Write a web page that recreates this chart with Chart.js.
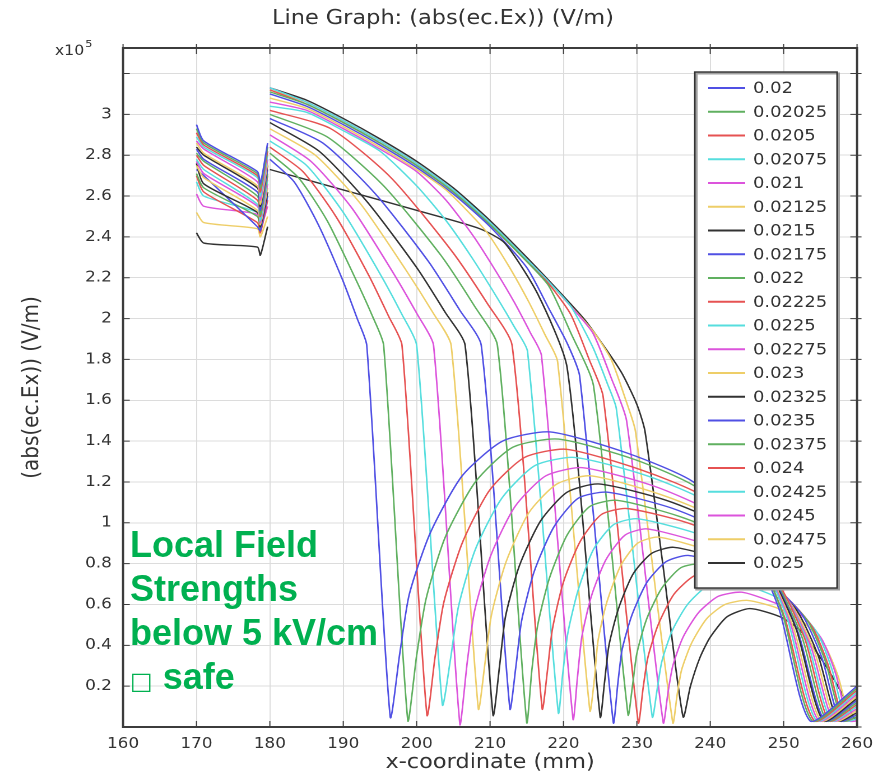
<!DOCTYPE html>
<html lang="en">
<head>
<meta charset="UTF-8">
<title>Line Graph: (abs(ec.Ex)) (V/m)</title>
<script src="https://cdn.jsdelivr.net/npm/chart.js@4.4.1/dist/chart.umd.min.js"></script>
<style>
  html, body { margin: 0; padding: 0; background: #fff; overflow: hidden; }
  /* the source screenshot is stretched sideways, so the whole chart is too */
  #wrap { position: absolute; left: 0; top: 0; width: 788px; height: 775px; transform: scaleX(1.1206); transform-origin: 0 0; }
  #note { position: absolute; left: 130px; top: 523px; font: bold 36px/44px "Liberation Sans", Arial, sans-serif; color: #00b050; white-space: nowrap; }
  #note .box { font: 24px "DejaVu Sans", sans-serif; }
</style>
</head>
<body>
<div id="wrap"><canvas id="chart"></canvas></div>
<div id="note">Local Field<br>Strengths<br>below 5 kV/cm<br><span class="box">□</span> safe</div>

<script>
// parameter values shown in the legend
const seriesNames = ['0.02', '0.02025', '0.0205', '0.02075', '0.021', '0.02125', '0.0215',
  '0.02175', '0.022', '0.02225', '0.0225', '0.02275', '0.023', '0.02325', '0.0235',
  '0.02375', '0.024', '0.02425', '0.0245', '0.02475', '0.025'];

const xTickValues = [160, 170, 180, 190, 200, 210, 220, 230, 240, 250, 260];
const xTickLabels = ['160', '170', '180', '190', '200', '210', '220', '230', '240', '250', '260'];
const yTickValues = [0, 0.2, 0.4, 0.6, 0.8, 1, 1.2, 1.4, 1.6, 1.8, 2, 2.2, 2.4, 2.6, 2.8, 3, 3.2];
const yTickLabels = ['', '0.2', '0.4', '0.6', '0.8', '1', '1.2', '1.4', '1.6', '1.8', '2', '2.2',
  '2.4', '2.6', '2.8', '3', ''];

// [x (mm), |Ex| (x1e5 V/m)]; null = gap between the two domains
const c00 = [[170,2.95],[171,2.87],[178.3,2.72],[178.7,2.66],[179.7,2.86],[179.85,null],
  [180,2.78],[183.3,2.67],[186.6,2.46],[189.9,2.19],[191.9,2.00],[193.2,1.87],[196.4,0.05],
  [197.7,0.36],[199.0,0.65],[201.85,0.95],[206.2,1.23],[211.7,1.40],[218.2,1.445],
  [228.8,1.34],[237.7,1.20],[244.75,0.94],[249.35,0.58],[253.6,0.03],[260,0.20]];
const c01 = [[170,2.93],[171,2.86],[178.3,2.71],[178.7,2.64],[179.7,2.84],[179.85,null],
  [180,2.81],[183.9,2.69],[187.8,2.48],[191.6,2.20],[194.0,2.01],[195.5,1.87],[198.8,0.03],
  [200.0,0.35],[201.3,0.63],[203.9,0.93],[208.0,1.20],[213.1,1.37],[219.3,1.41],
  [229.7,1.31],[238.3,1.17],[245.3,0.92],[249.8,0.56],[253.9,0.03],[260,0.19]];
const c02 = [[170,2.91],[171,2.85],[178.3,2.70],[178.7,2.62],[179.7,2.82],[179.85,null],
  [180,2.84],[184.5,2.72],[189.0,2.50],[193.5,2.21],[196.2,2.01],[198.0,1.87],[201.4,0.06],
  [202.5,0.34],[203.7,0.61],[206.2,0.90],[209.95,1.16],[214.7,1.32],[220.4,1.36],
  [230.5,1.26],[239.0,1.13],[245.75,0.88],[250.1,0.54],[254.2,0.03],[260,0.18]];
const c03 = [[170,2.89],[171,2.84],[178.3,2.69],[178.7,2.60],[179.7,2.80],[179.85,null],
  [180,2.87],[185,2.75],[190,2.52],[195,2.22],[198,2.02],[200,1.87],[203.5,0.11],
  [204.6,0.33],[205.7,0.59],[208.0,0.87],[211.6,1.12],[216.1,1.28],[221.5,1.32],
  [231.4,1.23],[239.65,1.10],[246.25,0.86],[250.5,0.53],[254.5,0.03],[260,0.17]];
const c04 = [[170,2.87],[171,2.83],[178.3,2.67],[178.7,2.58],[179.7,2.78],[179.85,null],
  [180,2.90],[185.6,2.77],[191.2,2.54],[196.7,2.23],[200.1,2.02],[202.3,1.87],[205.9,0.01],
  [206.9,0.32],[207.9,0.57],[210.1,0.84],[213.4,1.08],[217.6,1.23],[222.6,1.27],
  [232.3,1.18],[240.3,1.05],[246.75,0.83],[250.9,0.51],[254.8,0.03],[260,0.16]];
const c05 = [[170,2.86],[171,2.81],[178.3,2.65],[178.7,2.56],[179.7,2.76],[179.85,null],
  [180,2.93],[186.2,2.80],[192.4,2.56],[198.5,2.24],[202.2,2.03],[204.7,1.87],[208.4,0.09],
  [209.3,0.31],[210.2,0.55],[212.2,0.81],[215.3,1.05],[219.1,1.19],[223.7,1.23],
  [233.1,1.14],[241.0,1.02],[247.25,0.80],[251.3,0.49],[255.1,0.03],[260,0.15]];
const c06 = [[170,2.84],[171,2.80],[178.3,2.64],[178.7,2.55],[179.7,2.75],[179.85,null],
  [180,2.96],[186.7,2.82],[193.3,2.57],[200,2.25],[203.9,2.03],[206.6,1.87],[210.4,0.06],
  [211.3,0.30],[212.1,0.54],[214.0,0.79],[216.9,1.01],[220.5,1.15],[224.8,1.19],
  [234.0,1.11],[241.6,0.99],[247.75,0.77],[251.7,0.48],[255.4,0.03],[260,0.14]];
const c07 = [[170,2.83],[171,2.78],[178.3,2.62],[178.7,2.53],[179.7,2.73],[179.85,null],
  [180,2.98],[187.2,2.86],[194.4,2.61],[201.6,2.28],[205.9,2.04],[208.8,1.87],[212.7,0.09],
  [213.5,0.29],[214.3,0.52],[216.0,0.76],[218.7,0.98],[222.0,1.12],[226.0,1.15],
  [234.9,1.07],[242.3,0.95],[248.2,0.75],[252.0,0.46],[255.6,0.03],[260,0.13]];
const c08 = [[170,2.81],[171,2.77],[178.3,2.60],[178.7,2.51],[179.7,2.71],[179.85,null],
  [180,3.00],[187.8,2.89],[195.5,2.65],[203.3,2.31],[207.9,2.06],[211.0,1.87],[215.0,0.02],
  [215.7,0.28],[216.5,0.50],[218.1,0.73],[220.5,0.94],[223.6,1.08],[227.3,1.11],
  [235.9,1.03],[243.0,0.92],[248.75,0.72],[252.5,0.44],[255.9,0.03],[260,0.12]];
const c09 = [[170,2.80],[171,2.75],[178.3,2.58],[178.7,2.50],[179.7,2.70],[179.85,null],
  [180,3.02],[188.3,2.93],[196.5,2.69],[204.8,2.33],[209.7,2.07],[213.0,1.87],[217.1,0.09],
  [217.8,0.27],[218.5,0.48],[220.0,0.71],[222.3,0.91],[225.15,1.04],[228.6,1.07],
  [236.9,1.00],[243.8,0.89],[249.3,0.70],[252.9,0.43],[256.2,0.03],[260,0.11]];
const c10 = [[170,2.78],[171,2.73],[178.3,2.56],[178.7,2.48],[179.7,2.68],[179.85,null],
  [180,3.04],[185,3.01],[190,2.92],[195,2.82],[200,2.65],[204,2.48],[207.5,2.30],[211,2.10],
  [213.3,1.96],[215.1,1.84],[219.3,0.07],[219.9,0.26],[220.6,0.46],[222.0,0.67],[224.1,0.87],
  [226.8,0.99],[230.0,1.02],[237.95,0.95],[244.6,0.85],[249.9,0.66],[253.3,0.41],[256.5,0.03],
  [260,0.10]];
const c11 = [[170,2.77],[171,2.71],[178.3,2.55],[178.7,2.47],[179.7,2.66],[179.85,null],
  [180,3.06],[185,3.02],[190,2.93],[195,2.83],[200,2.72],[204,2.58],[207.8,2.40],[211,2.22],
  [213.3,2.08],[215.5,1.93],[217,1.82],[221.3,0.04],[221.9,0.24],[222.5,0.44],[223.8,0.64],
  [225.8,0.82],[228.4,0.94],[231.4,0.97],[239.0,0.90],[245.4,0.81],[250.45,0.63],
  [253.75,0.39],[256.8,0.03],[260,0.09]];
const c12 = [[170,2.75],[171,2.69],[178.3,2.53],[178.7,2.46],[179.7,2.64],[179.85,null],
  [180,3.08],[185,3.03],[190,2.94],[195,2.84],[200,2.73],[204,2.63],[209.4,2.43],[212.5,2.26],
  [215.3,2.08],[217.5,1.92],[219.2,1.79],[223.6,0.08],[224.2,0.23],[224.7,0.42],[225.9,0.61],
  [227.8,0.79],[230.1,0.90],[232.9,0.93],[240.2,0.86],[246.2,0.77],[251.05,0.60],[254.2,0.37],
  [257.1,0.03],[260,0.08]];
const c13 = [[170,2.76],[171,2.66],[178.3,2.52],[178.7,2.45],[179.7,2.62],[179.85,null],
  [180,2.73],[190,2.63],[200,2.53],[208.6,2.44],[212,2.37],[216.5,2.12],[220.5,1.76],
  [225.0,0.05],[225.6,0.22],[226.2,0.40],[227.5,0.58],[229.5,0.75],[232.0,0.85],[235.0,0.88],
  [241.7,0.82],[247.3,0.73],[251.8,0.57],[254.7,0.35],[257.4,0.03],[260,0.07]];
const c14 = [[170,2.73],[171,2.70],[178.3,2.45],[178.7,2.43],[179.7,2.60],[179.85,null],
  [180,3.10],[185,3.04],[190,2.95],[195,2.85],[200,2.74],[205,2.61],[210,2.45],[215,2.25],
  [218,2.05],[220.5,1.88],[222.2,1.72],[226.8,0.02],[227.4,0.21],[228.0,0.38],[229.35,0.55],
  [231.4,0.71],[234.0,0.81],[237.0,0.84],[243.2,0.78],[248.4,0.70],[252.5,0.55],[255.2,0.34],
  [257.7,0.03],[260,0.06]];
const c15 = [[170,2.71],[171,2.64],[178.3,2.50],[178.7,2.44],[179.7,2.62],[179.85,null],
  [180,3.11],[185,3.05],[190,2.96],[195,2.86],[200,2.75],[205,2.62],[210,2.46],[215,2.28],
  [218,2.16],[221,1.93],[224.1,1.67],[228.8,0.06],[229.4,0.20],[230.0,0.36],[231.35,0.53],
  [233.4,0.68],[236.0,0.78],[239.0,0.80],[244.7,0.74],[249.45,0.66],[253.25,0.52],[255.7,0.32],
  [258.0,0.03],[260,0.05]];
const c16 = [[170,2.70],[171,2.62],[178.3,2.47],[178.7,2.42],[179.7,2.58],[179.85,null],
  [180,3.12],[185,3.05],[190,2.96],[195,2.86],[200,2.75],[205,2.62],[210,2.46],[215,2.28],
  [218,2.17],[221,2.02],[223.5,1.80],[225.4,1.62],[230.2,0.02],[230.85,0.19],[231.5,0.34],
  [232.9,0.50],[235.05,0.65],[237.8,0.74],[241.0,0.76],[246.2,0.71],[250.5,0.63],[253.9,0.49],
  [256.1,0.30],[258.2,0.03],[260,0.05]];
const c17 = [[170,2.67],[171,2.60],[178.3,2.52],[178.7,2.46],[179.7,2.60],[179.85,null],
  [180,3.13],[185,3.06],[190,2.97],[195,2.87],[200,2.76],[205,2.63],[210,2.47],[215,2.29],
  [218,2.18],[221,2.06],[224,1.86],[226,1.68],[227.2,1.56],[232.1,0.05],[232.75,0.18],
  [233.4,0.32],[234.8,0.47],[236.9,0.60],[239.6,0.69],[242.8,0.71],[247.5,0.66],[251.4,0.59],
  [254.6,0.46],[256.6,0.28],[258.5,0.03],[260,0.04]];
const c18 = [[170,2.61],[171,2.55],[178.3,2.51],[178.7,2.44],[179.7,2.55],[179.85,null],
  [180,3.13],[185,3.06],[190,2.97],[195,2.87],[200,2.76],[205,2.63],[210,2.47],[215,2.29],
  [218,2.18],[221,2.06],[224,1.93],[226.5,1.71],[228.6,1.50],[233.6,0.02],[234.25,0.17],
  [234.9,0.30],[236.3,0.44],[238.4,0.56],[241.1,0.64],[244.3,0.66],[248.65,0.61],[252.3,0.55],
  [255.2,0.43],[257.1,0.26],[258.8,0.03],[260,0.03]];
const c19 = [[170,2.52],[171,2.47],[178.3,2.44],[178.7,2.40],[179.7,2.50],[179.85,null],
  [180,3.12],[185,3.06],[190,2.97],[195,2.87],[200,2.76],[205,2.63],[210,2.47],[215,2.29],
  [220,2.10],[224,1.94],[226.5,1.80],[228.5,1.60],[229.8,1.45],[234.9,0.02],[235.5,0.16],
  [236.1,0.28],[237.45,0.41],[239.5,0.53],[242.0,0.60],[245.1,0.62],[249.3,0.58],[252.8,0.51],
  [255.6,0.40],[257.4,0.25],[259.1,0.03],[260,0.03]];
const c20 = [[170,2.42],[171,2.37],[178.3,2.35],[178.7,2.31],[179.7,2.45],[179.85,null],
  [180,3.13],[185,3.07],[190,2.98],[195,2.88],[200,2.77],[205,2.64],[210,2.48],[215,2.30],
  [220,2.11],[223,1.99],[226,1.84],[228,1.73],[230,1.58],[231.1,1.45],[233.6,0.78],[236.3,0.05],
  [237.3,0.20],[238.6,0.34],[240,0.44],[242.3,0.54],[245.4,0.58],[249.5,0.54],[252.2,0.475],
  [255,0.34],[257.7,0.18],[259.5,0.05],[260,0.03]];

const curves = [c00, c01, c02, c03, c04, c05, c06, c07, c08, c09, c10,
  c11, c12, c13, c14, c15, c16, c17, c18, c19, c20];

// COMSOL colour cycle: blue, green, red, cyan, magenta, yellow, black
const palette = ['rgb(80,80,228)', 'rgb(96,176,96)', 'rgb(230,82,82)', 'rgb(86,222,222)',
  'rgb(220,84,220)', 'rgb(238,206,104)', 'rgb(50,50,50)'];

const FONT = '"DejaVu Sans", "Noto Sans", sans-serif';

const datasets = curves.map((pts, i) => ({
  label: seriesNames[i],
  data: pts.map(([x, y]) => ({ x: x, y: y })),
  borderColor: palette[i % palette.length],
  borderWidth: 1.4,
  pointRadius: 0,
  tension: 0.22,
  spanGaps: false,
  fill: false
}));

// plot frame with small inward ticks, plus the x10^5 multiplier
const frame = {
  id: 'frame',
  afterDatasetsDraw(chart) {
    const { ctx, chartArea: a, scales } = chart;
    ctx.save();
    ctx.strokeStyle = '#3c3c3c';
    ctx.lineWidth = 1;
    ctx.beginPath();
    xTickValues.forEach(v => {
      const px = scales.x.getPixelForValue(v);
      ctx.moveTo(px, a.bottom); ctx.lineTo(px, a.bottom - 6);
      ctx.moveTo(px, a.top - 4); ctx.lineTo(px, a.top + 6);
    });
    yTickValues.forEach(v => {
      const py = scales.y.getPixelForValue(v);
      ctx.moveTo(a.left, py); ctx.lineTo(a.left + 6, py);
      ctx.moveTo(a.right + 4, py); ctx.lineTo(a.right - 6, py);
    });
    ctx.stroke();
    ctx.lineWidth = 2;
    ctx.strokeRect(a.left, a.top, a.right - a.left, a.bottom - a.top);

    ctx.fillStyle = '#333';
    ctx.textBaseline = 'alphabetic';
    ctx.font = '14px ' + FONT;
    ctx.fillText('x10', 49, 55);
    const w = ctx.measureText('x10').width;
    ctx.font = '10px ' + FONT;
    ctx.fillText('5', 49 + w + 1, 47);
    ctx.restore();
  }
};

// boxed legend sitting inside the plot, top right
const legendPanel = {
  id: 'legendPanel',
  afterDatasetsDraw(chart) {
    const ctx = chart.ctx;
    const left = 620, top = 72, right = 747, bottom = 588;
    const firstRow = 88, rowStep = 23.75;
    ctx.save();
    ctx.fillStyle = '#fff';
    ctx.fillRect(left, top, right - left, bottom - top);
    ctx.strokeStyle = '#a0a0a0';
    ctx.lineWidth = 2;
    ctx.strokeRect(left + 1.5, top + 1.5, right - left, bottom - top);
    ctx.strokeStyle = '#333';
    ctx.lineWidth = 1.4;
    ctx.strokeRect(left, top, right - left, bottom - top);
    ctx.font = '16px ' + FONT;
    ctx.textBaseline = 'middle';
    chart.data.datasets.forEach((ds, i) => {
      const y = firstRow + i * rowStep;
      ctx.strokeStyle = ds.borderColor;
      ctx.lineWidth = 2;
      ctx.beginPath();
      ctx.moveTo(632, y);
      ctx.lineTo(665, y);
      ctx.stroke();
      ctx.fillStyle = '#333';
      ctx.fillText(ds.label, 672, y + 1);
    });
    ctx.restore();
  }
};

new Chart(document.getElementById('chart'), {
  type: 'line',
  data: { datasets: datasets },
  plugins: [frame, legendPanel],
  options: {
    responsive: true,
    maintainAspectRatio: false,
    animation: false,
    devicePixelRatio: 2,
    layout: { padding: { left: 2.6, right: 0, top: 0, bottom: 0 } },
    plugins: {
      legend: { display: false },
      tooltip: { enabled: false },
      title: {
        display: true,
        text: 'Line Graph: (abs(ec.Ex)) (V/m)',
        color: '#333',
        font: { family: FONT, size: 20, weight: 'normal', lineHeight: 1.2 },
        padding: { top: 7, bottom: 17 }
      }
    },
    scales: {
      x: {
        type: 'linear',
        min: 160,
        max: 260,
        afterBuildTicks(scale) { scale.ticks = xTickValues.map(v => ({ value: v })); },
        ticks: {
          color: '#333',
          font: { family: FONT, size: 15 },
          padding: 8,
          maxRotation: 0,
          callback: (v, i) => xTickLabels[i]
        },
        grid: { color: '#dcdcdc', lineWidth: 1, drawTicks: false },
        border: { display: false },
        title: {
          display: true,
          text: 'x-coordinate (mm)',
          color: '#333',
          font: { family: FONT, size: 20, weight: 'normal', lineHeight: 1.2 },
          padding: { top: 0, bottom: 0 }
        },
        afterFit(scale) { scale.height = 48; }
      },
      y: {
        type: 'linear',
        min: 0,
        max: 3.325,
        afterBuildTicks(scale) { scale.ticks = yTickValues.map(v => ({ value: v })); },
        ticks: {
          color: '#333',
          font: { family: FONT, size: 15 },
          padding: 10,
          callback: (v, i) => yTickLabels[i]
        },
        grid: { color: '#dcdcdc', lineWidth: 1, drawTicks: false },
        border: { display: false },
        title: {
          display: true,
          text: '(abs(ec.Ex)) (V/m)',
          color: '#333',
          font: { family: FONT, size: 20, weight: 'normal', lineHeight: 1.2 },
          padding: { top: 14, bottom: 0 }
        },
        afterFit(scale) { scale.width = 107.2; }
      },
      // empty right-hand strip so the plot ends where the screenshot's does
      yR: {
        type: 'linear',
        position: 'right',
        min: 0,
        max: 1,
        grid: { display: false },
        border: { display: false },
        ticks: { display: false },
        afterFit(scale) { scale.width = 23.2; }
      }
    }
  }
});
</script>
</body>
</html>
